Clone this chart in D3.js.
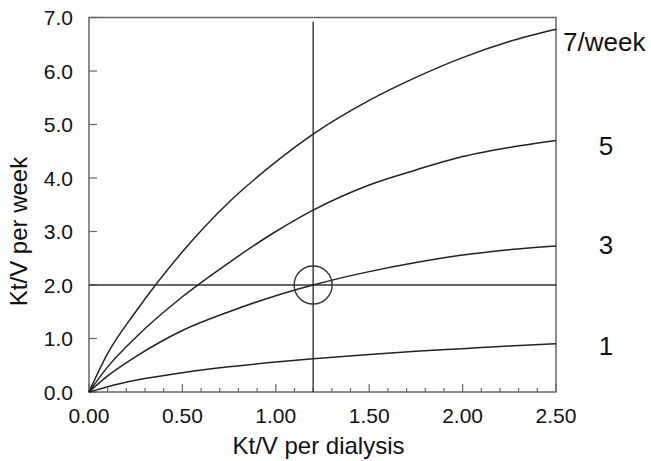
<!DOCTYPE html>
<html lang="en">
<head>
    <meta charset="UTF-8">
    <title>Kt/V per week vs per dialysis</title>
    <script src="https://cdn.jsdelivr.net/npm/d3@7"></script>
    <style>
        body { margin: 0; background: #fff; }
        text { font-family: "Liberation Sans", Arial, sans-serif; fill: #111; }
    </style>
</head>
<body>
<div id="chart"></div>
<script>
    // Data: Kt/V per dialysis -> Kt/V per week
    const perDialysis = [0, 0.1, 0.25, 0.5, 0.75, 1.0, 1.2, 1.5, 1.75, 2.0, 2.25, 2.5];
    const week7 = [0, 0.72, 1.5, 2.62, 3.55, 4.3, 4.82, 5.45, 5.88, 6.25, 6.55, 6.78];
    const week5 = [0, 0.47, 1.02, 1.78, 2.42, 3.0, 3.4, 3.87, 4.15, 4.4, 4.57, 4.70];
    const week3 = [0, 0.3, 0.66, 1.15, 1.5, 1.8, 2.0, 2.25, 2.42, 2.56, 2.66, 2.73];
    const week1 = [0, 0.1, 0.22, 0.36, 0.47, 0.56, 0.62, 0.70, 0.76, 0.81, 0.86, 0.90];
    const seriesLabels = ["7/week", "5", "3", "1"];
    const xTicks = [0, 0.5, 1.0, 1.5, 2.0, 2.5];
    const yTicks = [0, 1, 2, 3, 4, 5, 6, 7];
    const target = { x: 1.2, y: 2.0 };

    const margin = { top: 17.5, right: 95, bottom: 69, left: 89 },
        width = 651 - margin.left - margin.right,
        height = 461 - margin.top - margin.bottom;

    const svg = d3.select("#chart")
        .append("svg")
        .attr("width", 651)
        .attr("height", 461)
        .append("g")
        .attr("transform", `translate(${margin.left},${margin.top})`);

    const x = d3.scaleLinear().domain([0, 2.5]).range([0, width]);
    const y = d3.scaleLinear().domain([0, 7]).range([height, 0]);

    // minor ticks on x every 0.1, major every 0.5 (pointing inward)
    const minorX = d3.range(0, 26).map(i => i / 10);
    svg.selectAll(".xminor")
        .data(minorX)
        .enter().append("line")
        .attr("x1", d => x(d)).attr("x2", d => x(d))
        .attr("y1", height)
        .attr("y2", d => (Math.round(d * 10) % 5 === 0) ? height - 8 : height - 4)
        .attr("stroke", "#666").attr("stroke-width", 1.2);

    svg.selectAll(".ymajor")
        .data(yTicks)
        .enter().append("line")
        .attr("x1", 0).attr("x2", 8)
        .attr("y1", d => y(d)).attr("y2", d => y(d))
        .attr("stroke", "#666").attr("stroke-width", 1.2);

    // tick labels
    svg.selectAll(".xlab")
        .data(xTicks)
        .enter().append("text")
        .attr("x", d => x(d))
        .attr("y", height + 31)
        .attr("text-anchor", "middle")
        .style("font-size", "21px")
        .text(d => d3.format(".2f")(d));

    svg.selectAll(".ylab")
        .data(yTicks)
        .enter().append("text")
        .attr("x", -16)
        .attr("y", d => y(d))
        .attr("dy", "0.36em")
        .attr("text-anchor", "end")
        .style("font-size", "21px")
        .text(d => d3.format(".1f")(d));

    // frame
    svg.append("rect")
        .attr("width", width).attr("height", height)
        .attr("fill", "none")
        .attr("stroke", "#666").attr("stroke-width", 1.5);

    // reference lines and circle
    svg.append("line")
        .attr("x1", x(0)).attr("x2", x(2.5))
        .attr("y1", y(target.y)).attr("y2", y(target.y))
        .attr("stroke", "#333").attr("stroke-width", 1.4);

    svg.append("line")
        .attr("x1", x(target.x)).attr("x2", x(target.x))
        .attr("y1", y(0)).attr("y2", y(6.92))
        .attr("stroke", "#333").attr("stroke-width", 1.4);

    svg.append("circle")
        .attr("cx", x(target.x)).attr("cy", y(target.y))
        .attr("r", 19)
        .attr("fill", "none")
        .attr("stroke", "#333").attr("stroke-width", 1.4);

    // curves
    const series = [week7, week5, week3, week1];
    const line = d3.line()
        .x((d, i) => x(perDialysis[i]))
        .y(d => y(d))
        .curve(d3.curveMonotoneX);

    svg.selectAll(".curve")
        .data(series)
        .enter().append("path")
        .attr("class", "curve")
        .attr("d", d => line(d))
        .attr("fill", "none")
        .attr("stroke", "#222")
        .attr("stroke-width", 1.5);

    // curve labels on the right
    const labelY = [6.55, 4.6, 2.75, 0.87];
    svg.selectAll(".slab")
        .data(seriesLabels)
        .enter().append("text")
        .attr("x", (d, i) => i === 0 ? width + 7 : width + 50)
        .attr("y", (d, i) => y(labelY[i]))
        .attr("dy", "0.36em")
        .attr("text-anchor", (d, i) => i === 0 ? "start" : "middle")
        .style("font-size", "26px")
        .text(d => d);

    // axis titles
    svg.append("text")
        .attr("x", width / 2 - 4)
        .attr("y", height + 62)
        .attr("text-anchor", "middle")
        .style("font-size", "24px")
        .text("Kt/V per dialysis");

    svg.append("text")
        .attr("transform", `translate(${-62},${y(3.0)}) rotate(-90)`)
        .attr("text-anchor", "middle")
        .style("font-size", "24px")
        .text("Kt/V per week");
</script>
</body>
</html>
